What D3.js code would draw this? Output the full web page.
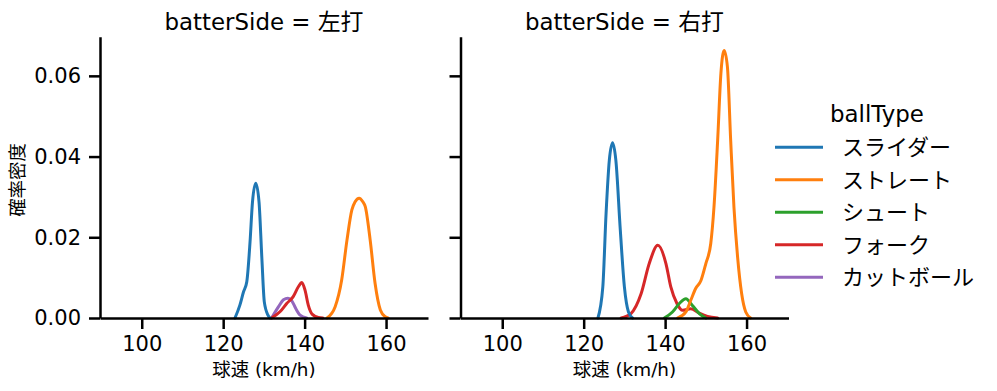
<!DOCTYPE html>
<html>
<head>
<meta charset="utf-8">
<script src="https://cdn.jsdelivr.net/npm/d3@7"></script>
<style>
  body { margin: 0; background: #fff; }
  text { font-family: "DejaVu Sans", "Noto Sans CJK JP", sans-serif; fill: #000; }
</style>
</head>
<body>
<div id="chart"></div>
<script>
// facets and hue levels
const sides = ["左打", "右打"];
const ballTypes = ["スライダー", "ストレート", "シュート", "フォーク", "カットボール"];
const colors = ["#1f77b4", "#ff7f0e", "#2ca02c", "#d62728", "#9467bd"];
const xTicks = [100, 120, 140, 160];
const yTicks = [0, 0.02, 0.04, 0.06];

// density curves: [speed km/h, density]
const leftSlider = [[122.9,0],[124.1,0.0032],[125.0,0.0065],[125.8,0.009],[126.6,0.0189],[127.2,0.0288],[128.0,0.0334],[128.8,0.0288],[129.5,0.0148],[130.1,0.004],[131.0,0.0007],[131.5,0]];
const leftStraight = [[145.5,0],[147.5,0.0028],[149.1,0.0094],[150.4,0.0193],[151.6,0.0268],[152.4,0.0288],[153.4,0.0297],[154.3,0.0288],[154.9,0.0276],[156.1,0.0193],[157.3,0.0086],[158.6,0.002],[159.8,0.0003],[160.5,0]];
const leftFork = [[131.9,0],[134.0,0.0016],[135.6,0.0036],[137.2,0.0053],[138.5,0.0078],[139.3,0.0088],[140.1,0.0069],[140.9,0.0032],[141.9,0.0009],[143.4,0.0001],[144.5,0]];
const leftCutter = [[131.9,0],[133.6,0.0028],[134.8,0.0045],[135.9,0.0049],[136.9,0.0042],[137.8,0.0024],[138.9,0.0007],[140.5,0]];

const rightSlider = [[123.5,0],[124.7,0.0077],[125.5,0.0259],[126.3,0.0391],[127.1,0.0434],[127.9,0.0391],[129.0,0.0217],[130.0,0.0077],[131.0,0.0015],[132.0,0]];
const rightStraight = [[143.1,0],[145.1,0.0015],[146.3,0.0044],[147.5,0.0073],[148.8,0.0093],[150.0,0.0135],[151.2,0.0184],[152.0,0.0275],[152.9,0.044],[153.7,0.0606],[154.5,0.0663],[155.3,0.0622],[156.1,0.044],[156.9,0.0275],[157.8,0.0151],[158.8,0.006],[159.8,0.0015],[161.0,0]];
const rightShoot = [[139.8,0],[141.8,0.0015],[143.5,0.0036],[145.1,0.0048],[146.7,0.0031],[148.4,0.0011],[150.0,0]];
const rightFork = [[129.2,0],[131.6,0.0011],[134.1,0.006],[136.1,0.0135],[138.2,0.018],[140.2,0.0135],[141.4,0.0077],[142.9,0.0036],[144.3,0.0019],[146.3,0.0023],[148.4,0.0012],[150.4,0.0004],[152.9,0]];

const curves = {
  "左打": {"スライダー": leftSlider, "ストレート": leftStraight, "フォーク": leftFork, "カットボール": leftCutter},
  "右打": {"スライダー": rightSlider, "ストレート": rightStraight, "シュート": rightShoot, "フォーク": rightFork}
};

const W = 997, H = 391;
const panelW = 328, plotTop = 36.7, plotBottom = 318;
const panelX = [100, 460.5];
const FONT = '"DejaVu Sans", "Noto Sans CJK JP", sans-serif';

const svg = d3.select("#chart").append("svg")
  .attr("width", W).attr("height", H);

const x = d3.scaleLinear().domain([89.75, 170.3]).range([0, panelW]);
const y = d3.scaleLinear().domain([0, 0.0697]).range([plotBottom, plotTop]);
const color = d3.scaleOrdinal().domain(ballTypes).range(colors);

const line = d3.line()
  .x(d => x(d[0]))
  .y(d => y(d[1]))
  .curve(d3.curveMonotoneX);

sides.forEach((side, i) => {
  const g = svg.append("g").attr("transform", `translate(${panelX[i]},0)`);

  // curves, first hue drawn last (on top)
  ballTypes.slice().reverse().forEach(bt => {
    const pts = curves[side][bt];
    if (!pts) return;
    g.append("path")
      .attr("d", line(pts))
      .attr("fill", "none")
      .attr("stroke", color(bt))
      .attr("stroke-width", 3)
      .attr("stroke-linejoin", "round")
      .attr("stroke-linecap", "round");
  });

  const xAxis = g.append("g")
    .attr("transform", `translate(0,${plotBottom})`)
    .call(d3.axisBottom(x).tickValues(xTicks).tickSize(11).tickSizeOuter(0).tickPadding(7));

  const yAxis = g.append("g")
    .call(d3.axisLeft(y).tickValues(yTicks).tickSize(11).tickSizeOuter(0).tickPadding(8)
      .tickFormat(i === 0 ? d3.format(".2f") : () => ""));

  [xAxis, yAxis].forEach(a => {
    a.select(".domain").attr("stroke", "#000").attr("stroke-width", 2.5);
    a.selectAll(".tick line").attr("stroke", "#000").attr("stroke-width", 2.5);
    a.selectAll(".tick text")
      .style("font-family", FONT)
      .style("font-size", "21px").attr("fill", "#000");
  });

  g.append("text")
    .attr("x", panelW / 2).attr("y", 29.5)
    .attr("text-anchor", "middle")
    .style("font-size", "22.9px")
    .text(`batterSide = ${side}`);

  g.append("text")
    .attr("x", panelW / 2).attr("y", 376)
    .attr("text-anchor", "middle")
    .style("font-size", "18.4px")
    .text("球速 (km/h)");
});

svg.append("text")
  .attr("transform", `translate(23.5,180) rotate(-90)`)
  .attr("text-anchor", "middle")
  .style("font-size", "18.4px")
  .text("確率密度");

// legend
const legend = svg.append("g").attr("transform", "translate(775,0)");
legend.append("text")
  .attr("x", 102).attr("y", 121.7)
  .attr("text-anchor", "middle")
  .style("font-size", "22.9px")
  .text("ballType");

ballTypes.forEach((bt, k) => {
  const ly = 147.3 + k * 32.5;
  legend.append("line")
    .attr("x1", 0).attr("x2", 48)
    .attr("y1", ly).attr("y2", ly)
    .attr("stroke", color(bt)).attr("stroke-width", 3);
  legend.append("text")
    .attr("x", 67).attr("y", ly + 8)
    .style("font-size", "22px")
    .text(bt);
});
</script>
</body>
</html>
